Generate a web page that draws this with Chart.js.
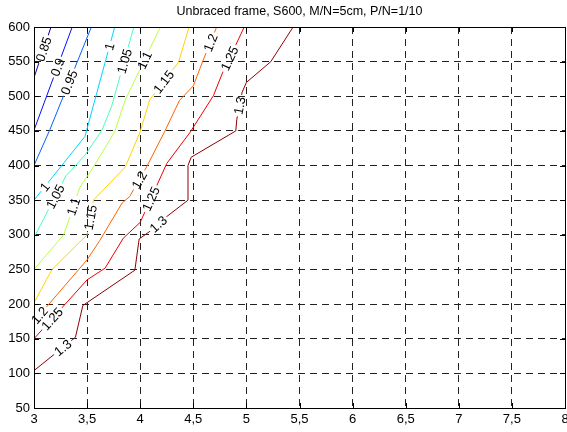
<!DOCTYPE html>
<html>
<head>
<meta charset="utf-8">
<script src="https://cdn.jsdelivr.net/npm/chart.js@4.4.0/dist/chart.umd.min.js"></script>
<style>
  body { margin: 0; background: #fff; }
  #wrap { width: 567px; height: 432px; }
</style>
</head>
<body>
<div id="wrap"><canvas id="contour-chart" width="567" height="432"></canvas></div>
<script>
// Contour levels and their colours (jet colormap)
const levels = [0.85, 0.9, 0.95, 1, 1.05, 1.1, 1.15, 1.2, 1.25, 1.3];
const levelColors = ['#0000a8', '#0010ff', '#0063ff', '#00d4ff', '#47ffb8',
                     '#b8ff47', '#ffd400', '#ff6300', '#f10000', '#8f0000'];

// Contour lines, [x, y] points
const line085 = [[3, 527], [3.16, 600]];
const line090 = [[3, 451], [3.36, 600]];
const line095 = [[3, 400], [3.15, 452], [3.54, 600]];
const line100 = [[3, 350], [3.48, 442], [3.76, 600]];
const line105 = [[3, 296], [3.3, 385], [3.48, 415], [3.64, 451], [3.73, 485], [3.94, 600]];
const line110 = [[3, 250], [3.28, 300], [3.43, 368], [3.56, 398], [3.76, 449], [3.86, 495], [4.19, 600]];
const line115 = [[3, 202], [3.17, 250], [3.5, 300], [3.56, 350], [3.86, 398], [4.0, 449], [4.09, 495],
                 [4.36, 549], [4.46, 600]];
const line120 = [[3, 175], [3.5, 264], [3.62, 292], [3.83, 346], [3.9, 355], [4.06, 398], [4.23, 449],
                 [4.37, 494], [4.5, 515], [4.59, 551], [4.72, 600]];
const line125 = [[3, 150], [3.5, 235], [3.67, 252], [3.84, 295], [4.0, 318], [4.25, 403], [4.47, 448],
                 [4.69, 501], [4.77, 532], [4.98, 600]];
const line130 = [[3, 104], [3.39, 152], [3.46, 198], [3.95, 249], [3.99, 294], [4.1, 306], [4.23, 324],
                 [4.45, 350], [4.45, 400], [4.48, 412], [4.9, 450], [4.91, 467], [4.96, 506], [5.0, 520],
                 [5.23, 550], [5.44, 600]];
const contourLines = [line085, line090, line095, line100, line105, line110, line115, line120, line125, line130];

// x values where the inline level labels sit on each line
const labelX = [[3.09], [3.22], [3.33], [3.1, 3.71], [3.2, 3.85], [3.37, 4.04], [3.53, 4.22],
                [3.05, 3.99, 4.66], [3.17, 4.1, 4.84], [3.27, 4.17, 4.935]];

const xTicks = [3, 3.5, 4, 4.5, 5, 5.5, 6, 6.5, 7, 7.5, 8];
const yTicks = [50, 100, 150, 200, 250, 300, 350, 400, 450, 500, 550, 600];

const titleText = 'Unbraced frame, S600, M/N=5cm, P/N=1/10';
const FONT = '"Liberation Sans", Arial, sans-serif';
const LABEL_FONT = '13px ' + FONT;

// Work out where each label goes (pixels) and its angle along the line
const getLabels = (chart) => {
  const xs = chart.scales.x, ys = chart.scales.y;
  const ctx = chart.ctx;
  ctx.font = LABEL_FONT;
  const out = [];
  contourLines.forEach((pts, i) => {
    labelX[i].forEach(lx => {
      for (let k = 0; k < pts.length - 1; k++) {
        const [x0, y0] = pts[k];
        const [x1, y1] = pts[k + 1];
        if (x1 > x0 && lx >= x0 && lx <= x1) {
          const y = y0 + (lx - x0) / (x1 - x0) * (y1 - y0);
          const ang = Math.atan2(ys.getPixelForValue(y1) - ys.getPixelForValue(y0),
                                 xs.getPixelForValue(x1) - xs.getPixelForValue(x0));
          const text = String(levels[i]);
          out.push({ x: xs.getPixelForValue(lx), y: ys.getPixelForValue(y), ang, text,
                     w: ctx.measureText(text).width + 4, h: 12 });
          break;
        }
      }
    });
  });
  return out;
};

const contourPlugin = {
  id: 'contourExtras',
  beforeDatasetsDraw(chart) {
    // cut gaps in the lines where labels go
    const ctx = chart.ctx;
    chart.$labels = getLabels(chart);
    ctx.save();
    ctx.beginPath();
    ctx.rect(0, 0, chart.width, chart.height);
    chart.$labels.forEach(l => {
      const c = Math.cos(l.ang), s = Math.sin(l.ang);
      const corners = [[-l.w / 2, -l.h / 2], [l.w / 2, -l.h / 2], [l.w / 2, l.h / 2], [-l.w / 2, l.h / 2]];
      corners.forEach(([u, v], j) => {
        const px = l.x + u * c - v * s;
        const py = l.y + u * s + v * c;
        if (j === 0) ctx.moveTo(px, py); else ctx.lineTo(px, py);
      });
      ctx.closePath();
    });
    ctx.clip('evenodd');
  },
  afterDatasetsDraw(chart) {
    const ctx = chart.ctx;
    ctx.restore();
    const { left, right, top, bottom } = chart.chartArea;

    // level labels
    ctx.save();
    ctx.fillStyle = '#000';
    ctx.font = LABEL_FONT;
    ctx.textAlign = 'center';
    ctx.textBaseline = 'middle';
    chart.$labels.forEach(l => {
      ctx.save();
      ctx.translate(l.x, l.y);
      ctx.rotate(l.ang);
      ctx.fillText(l.text, 0, 1);
      ctx.restore();
    });
    ctx.restore();

    // inward tick marks
    ctx.save();
    ctx.strokeStyle = '#000';
    ctx.lineWidth = 1;
    ctx.beginPath();
    xTicks.forEach(v => {
      const px = Math.round(chart.scales.x.getPixelForValue(v)) + 0.5;
      ctx.moveTo(px, bottom); ctx.lineTo(px, bottom - 5);
      ctx.moveTo(px, top); ctx.lineTo(px, top + 5);
    });
    yTicks.forEach(v => {
      const py = Math.round(chart.scales.y.getPixelForValue(v)) + 0.5;
      ctx.moveTo(left, py); ctx.lineTo(left + 5, py);
      ctx.moveTo(right, py); ctx.lineTo(right - 5, py);
    });
    ctx.stroke();

    // axes box
    ctx.strokeRect(Math.round(left) + 0.5, Math.round(top) + 0.5,
                   Math.round(right - left), Math.round(bottom - top));

    // title
    ctx.fillStyle = '#000';
    ctx.font = '12.5px ' + FONT;
    ctx.textAlign = 'center';
    ctx.textBaseline = 'middle';
    ctx.fillText(titleText, (left + right) / 2, 12);
    ctx.restore();
  }
};

const datasets = contourLines.map((pts, i) => ({
  label: String(levels[i]),
  data: pts.map(([x, y]) => ({ x, y })),
  borderColor: levelColors[i],
  borderWidth: 1,
  pointRadius: 0,
  tension: 0,
  fill: false
}));

new Chart(document.getElementById('contour-chart').getContext('2d'), {
  type: 'line',
  data: { datasets },
  options: {
    responsive: false,
    animation: false,
    parsing: false,
    layout: { padding: { left: 0, right: 2, top: 27, bottom: 0 } },
    plugins: { legend: { display: false }, tooltip: { enabled: false }, title: { display: false } },
    scales: {
      x: {
        type: 'linear',
        min: 3,
        max: 8,
        afterBuildTicks: s => { s.ticks = xTicks.map(v => ({ value: v })); },
        afterFit: s => { s.height = 24; s.paddingLeft = 0; s.paddingRight = 0; },
        ticks: {
          color: '#000',
          font: { family: FONT, size: 13 },
          padding: 4,
          maxRotation: 0,
          autoSkip: false,
          callback: v => String(v).replace('.', ',')
        },
        grid: { color: '#222', lineWidth: 1, drawTicks: false },
        border: { display: false, dash: [7, 5] }
      },
      y: {
        type: 'linear',
        min: 50,
        max: 600,
        afterBuildTicks: s => { s.ticks = yTicks.map(v => ({ value: v })); },
        afterFit: s => { s.width = 34; s.paddingTop = 0; s.paddingBottom = 0; },
        ticks: {
          color: '#000',
          font: { family: FONT, size: 13 },
          padding: 4,
          autoSkip: false
        },
        grid: { color: '#222', lineWidth: 1, drawTicks: false },
        border: { display: false, dash: [7, 5] }
      }
    }
  },
  plugins: [contourPlugin]
});
</script>
</body>
</html>
